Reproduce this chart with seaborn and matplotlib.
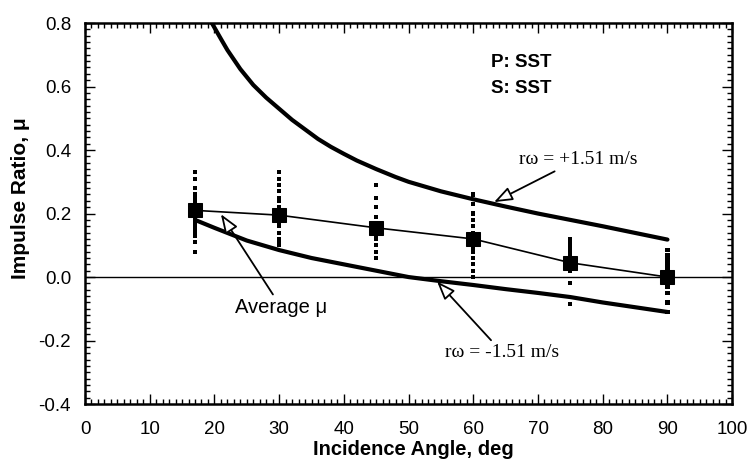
import numpy as np
import pandas as pd
import matplotlib
matplotlib.use("Agg")
import matplotlib.pyplot as plt
import seaborn as sns
from matplotlib.ticker import MultipleLocator

# ---- data ----
upper_x = [19.6, 21, 22, 23, 24, 25, 26, 27, 28, 30, 32, 34, 36, 38, 40, 42, 45, 48, 50, 55, 60, 65, 70, 75, 80, 85, 90]
upper_y = [0.80, 0.75, 0.715, 0.685, 0.655, 0.63, 0.605, 0.585, 0.565, 0.53, 0.495, 0.465, 0.435, 0.41, 0.388, 0.367, 0.34, 0.315, 0.30, 0.27, 0.245, 0.222, 0.20, 0.18, 0.16, 0.139, 0.118]

lower_x = [17, 20, 25, 30, 35, 40, 45, 50, 55, 60, 65, 70, 75, 80, 85, 90]
lower_y = [0.18, 0.155, 0.115, 0.085, 0.06, 0.04, 0.02, 0.0, -0.013, -0.025, -0.038, -0.05, -0.063, -0.08, -0.095, -0.11]

avg_x = [17, 30, 45, 60, 75, 90]
avg_y = [0.21, 0.195, 0.155, 0.12, 0.045, 0.0]

dots_17 = [0.33, 0.31, 0.28, 0.26, 0.25, 0.24, 0.23, 0.22, 0.21, 0.20, 0.19, 0.18, 0.17, 0.16, 0.15, 0.14, 0.13, 0.11, 0.08]
dots_30 = [0.33, 0.31, 0.29, 0.27, 0.25, 0.24, 0.22, 0.21, 0.20, 0.19, 0.18, 0.17, 0.16, 0.14, 0.12, 0.11, 0.10]
dots_45 = [0.29, 0.25, 0.22, 0.19, 0.17, 0.16, 0.15, 0.14, 0.13, 0.12, 0.10, 0.08, 0.06]
dots_60 = [0.26, 0.23, 0.20, 0.18, 0.16, 0.14, 0.12, 0.10, 0.09, 0.08, 0.06, 0.04, 0.02, 0.0]
dots_75 = [0.12, 0.11, 0.10, 0.09, 0.08, 0.07, 0.06, 0.05, 0.04, 0.03, 0.02, -0.02, -0.085]
dots_90 = [0.085, 0.07, 0.06, 0.05, 0.04, 0.03, 0.02, 0.01, 0.0, -0.01, -0.02, -0.03, -0.05, -0.08, -0.11]
dot_angles = [17, 30, 45, 60, 75, 90]

x_ticks = [0, 10, 20, 30, 40, 50, 60, 70, 80, 90, 100]
y_ticks = [-0.4, -0.2, 0.0, 0.2, 0.4, 0.6, 0.8]

# ---- build tables ----
dot_lists = [dots_17, dots_30, dots_45, dots_60, dots_75, dots_90]
dots_df = pd.DataFrame({
    "angle": np.concatenate([[a] * len(v) for a, v in zip(dot_angles, dot_lists)]),
    "mu": np.concatenate(dot_lists),
})
upper_df = pd.DataFrame({"angle": upper_x, "mu": upper_y})
lower_df = pd.DataFrame({"angle": lower_x, "mu": lower_y})
avg_df = pd.DataFrame({"angle": avg_x, "mu": avg_y})

sns.set_style("ticks")
plt.rcParams["font.family"] = ["Liberation Sans", "DejaVu Sans"]
plt.rcParams["text.color"] = "black"
plt.rcParams["axes.labelcolor"] = "black"
plt.rcParams["xtick.color"] = "black"
plt.rcParams["ytick.color"] = "black"

fig = plt.figure(figsize=(7.49, 4.65), dpi=100)
ax = fig.add_axes([0.1135, 0.131, 0.864, 0.8195])

ax.axhline(0, color="black", lw=1.0, zorder=1)

sns.scatterplot(data=dots_df, x="angle", y="mu", ax=ax, marker="s", s=9,
                color="black", edgecolor="none", zorder=3, legend=False)
sns.lineplot(data=upper_df, x="angle", y="mu", ax=ax, color="black", lw=3.0, zorder=2)
sns.lineplot(data=lower_df, x="angle", y="mu", ax=ax, color="black", lw=3.0, zorder=2)
sns.lineplot(data=avg_df, x="angle", y="mu", ax=ax, color="black", lw=1.2,
             marker="s", markersize=10, markeredgecolor="black", zorder=4)

ax.set_xlim(0, 100)
ax.set_ylim(-0.4, 0.8)
ax.set_xticks(x_ticks)
ax.set_yticks(y_ticks)
ax.set_yticklabels([f"{v:.1f}" for v in y_ticks])
ax.xaxis.set_minor_locator(MultipleLocator(1))
ax.yaxis.set_minor_locator(MultipleLocator(0.02))
ax.tick_params(which="both", direction="in", top=True, right=True, width=1.0,
               labelsize=13.5, colors="black")
ax.tick_params(which="major", length=7)
ax.tick_params(axis="x", which="major", pad=12)
ax.tick_params(axis="y", which="major", pad=10)
ax.tick_params(which="minor", length=3.5)
for s in ax.spines.values():
    s.set_linewidth(1.8)
    s.set_color("black")

ax.set_xlabel("Incidence Angle, deg", fontsize=14.5, fontweight="bold", color="black")
ax.xaxis.set_label_coords(0.508, -0.095)
ax.set_ylabel("Impulse Ratio, μ", fontsize=15, fontweight="bold", color="black")
ax.yaxis.set_label_coords(-0.085, 0.54)

ax.text(62.8, 0.675, "P: SST", fontsize=13.5, fontweight="bold", va="center", color="black")
ax.text(62.8, 0.595, "S: SST", fontsize=13.5, fontweight="bold", va="center", color="black")

arrow = dict(arrowstyle="-|>,head_length=0.8,head_width=0.3", ec="black", fc="white",
             lw=1.3, shrinkA=0, shrinkB=0)
ax.annotate("rω = +1.51 m/s", xy=(63.2, 0.236), xytext=(67.0, 0.37),
            fontsize=14, family=["Liberation Serif", "DejaVu Serif"], color="black",
            va="center", ha="left", arrowprops=arrow)
ax.annotate("Average μ", xy=(21.0, 0.198), xytext=(23.2, -0.095),
            fontsize=14.5, va="center", ha="left", color="black", arrowprops=arrow)
ax.annotate("rω = -1.51 m/s", xy=(54.4, -0.014), xytext=(55.6, -0.236),
            fontsize=14, family=["Liberation Serif", "DejaVu Serif"], color="black",
            va="center", ha="left", arrowprops=arrow)

fig.savefig("out.png", dpi=100)
